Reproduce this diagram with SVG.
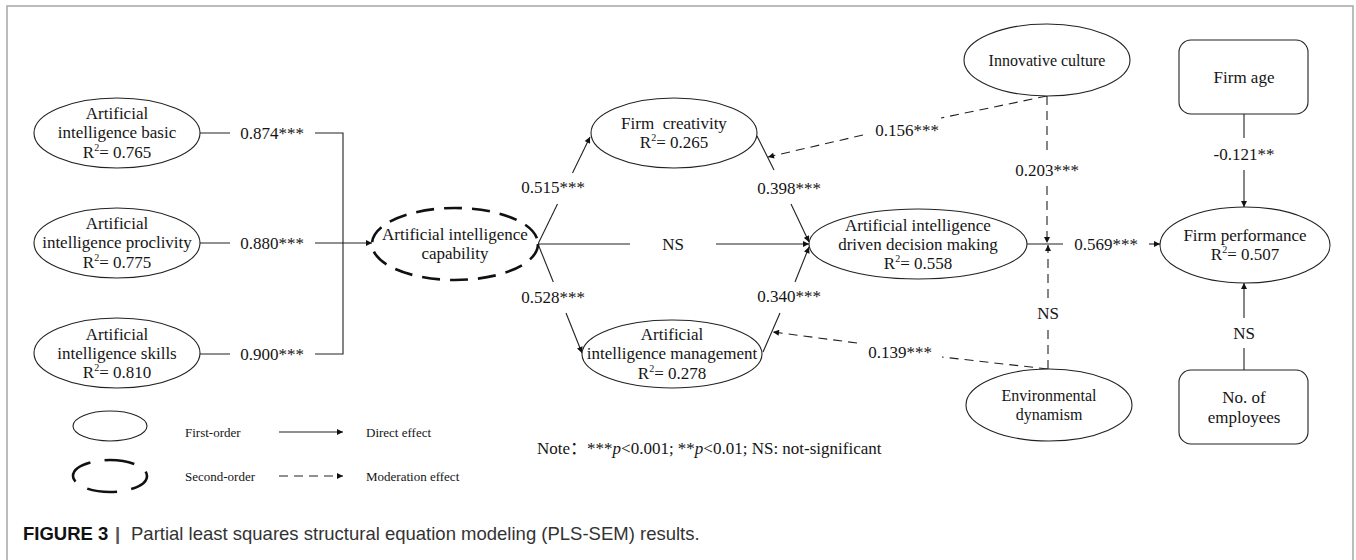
<svg xmlns="http://www.w3.org/2000/svg" width="1356" height="560" viewBox="0 0 1356 560">
<style>
  .t{font-family:"Liberation Serif","Times New Roman",serif;font-size:17px;fill:#151515;text-anchor:middle}
  .s{font-size:16px}
  .lg{font-family:"Liberation Serif","Times New Roman",serif;font-size:13px;fill:#151515}
  .node{fill:#fff;stroke:#222;stroke-width:1.1}
  .second{fill:#fff;stroke:#111;stroke-width:2.6;stroke-dasharray:18 10}
  .ln{fill:none;stroke:#222;stroke-width:1.1}
  .dash{fill:none;stroke:#222;stroke-width:1.1;stroke-dasharray:9 6}
  .cap{font-family:"Liberation Sans",Arial,sans-serif;font-size:18.5px;fill:#333}
</style>
<defs>
  <marker id="ah" viewBox="0 0 10 10" refX="10" refY="5" markerWidth="8" markerHeight="6" orient="auto" markerUnits="userSpaceOnUse">
    <path d="M0,0 L10,5 L0,10 z" fill="#111"/>
  </marker>
</defs>
<rect x="7" y="6" width="1346" height="600" fill="#fff" stroke="#a6a6a6" stroke-width="1.5"/>

<g id="connectors">
  <!-- first-order to second-order -->
  <path class="ln" d="M200,133 H230 M315,133 H343 V354 H315 M200,354 H230 M200,243 H230"/>
  <path class="ln" d="M315,243 H372" marker-end="url(#ah)"/>
  <text class="t" x="272" y="139">0.874***</text>
  <text class="t" x="272" y="249">0.880***</text>
  <text class="t" x="272" y="360">0.900***</text>
  <!-- capability to mediators -->
  <path class="ln" d="M538,244 L557.5,204"/>
  <path class="ln" d="M572.5,173 L590,137" marker-end="url(#ah)"/>
  <text class="t" x="553" y="193">0.515***</text>
  <path class="ln" d="M538,244 L553.3,282"/>
  <path class="ln" d="M566,313 L582,353" marker-end="url(#ah)"/>
  <text class="t" x="553" y="303">0.528***</text>
  <path class="ln" d="M538,244 H630"/>
  <path class="ln" d="M716,244 H809" marker-end="url(#ah)"/>
  <text class="t" x="673" y="250">NS</text>
  <!-- mediators to decision -->
  <path class="ln" d="M757,136 L774,170"/>
  <path class="ln" d="M791,204 L809,242" marker-end="url(#ah)"/>
  <text class="t" x="789" y="194">0.398***</text>
  <path class="ln" d="M763,352 L780,313"/>
  <path class="ln" d="M795,282 L809,247" marker-end="url(#ah)"/>
  <text class="t" x="789" y="302">0.340***</text>
  <!-- moderation: innovative culture -->
  <path class="dash" d="M1047,96 L941,118"/>
  <path class="dash" d="M863,135 L768,157" marker-end="url(#ah)"/>
  <text class="t" x="907" y="136">0.156***</text>
  <path class="dash" d="M1047,96 V155"/>
  <path class="dash" d="M1047,186 V243" marker-end="url(#ah)"/>
  <text class="t" x="1047" y="176">0.203***</text>
  <!-- moderation: environmental dynamism -->
  <path class="dash" d="M1048,369 L942,357"/>
  <path class="dash" d="M857,343 L773,332" marker-end="url(#ah)"/>
  <text class="t" x="900" y="358">0.139***</text>
  <path class="dash" d="M1048,369 V328"/>
  <path class="dash" d="M1048,298 V245" marker-end="url(#ah)"/>
  <text class="t" x="1048" y="319">NS</text>
  <!-- decision to performance -->
  <path class="ln" d="M1027,244 H1063"/>
  <path class="ln" d="M1149,244 H1160" marker-end="url(#ah)"/>
  <text class="t" x="1106" y="250">0.569***</text>
  <!-- controls -->
  <path class="ln" d="M1244,114 V138"/>
  <path class="ln" d="M1244,170 V207" marker-end="url(#ah)"/>
  <text class="t" x="1244" y="160">-0.121**</text>
  <path class="ln" d="M1244,370 V348"/>
  <path class="ln" d="M1244,318 V283" marker-end="url(#ah)"/>
  <text class="t" x="1244" y="339">NS</text>
</g>

<g id="ai-basic">
  <ellipse class="node" cx="117" cy="133" rx="83" ry="35"/>
  <text class="t" x="117" y="119">Artificial</text>
  <text class="t" x="117" y="138">intelligence basic</text>
  <text class="t" x="117" y="158">R<tspan font-size="10" dy="-7">2</tspan><tspan dy="7">= 0.765</tspan></text>
</g>
<g id="ai-proclivity">
  <ellipse class="node" cx="117" cy="243" rx="83" ry="35"/>
  <text class="t" x="117" y="229">Artificial</text>
  <text class="t" x="117" y="248">intelligence proclivity</text>
  <text class="t" x="117" y="268">R<tspan font-size="10" dy="-7">2</tspan><tspan dy="7">= 0.775</tspan></text>
</g>
<g id="ai-skills">
  <ellipse class="node" cx="117" cy="353" rx="83" ry="35"/>
  <text class="t" x="117" y="340">Artificial</text>
  <text class="t" x="117" y="359">intelligence skills</text>
  <text class="t" x="117" y="378">R<tspan font-size="10" dy="-7">2</tspan><tspan dy="7">= 0.810</tspan></text>
</g>
<g id="ai-capability">
  <ellipse class="second" cx="455" cy="244" rx="83" ry="36"/>
  <text class="t" x="455" y="240">Artificial intelligence</text>
  <text class="t" x="455" y="259">capability</text>
</g>
<g id="firm-creativity">
  <ellipse class="node" cx="674" cy="133" rx="83" ry="35"/>
  <text class="t" x="674" y="129" xml:space="preserve">Firm  creativity</text>
  <text class="t" x="674" y="148">R<tspan font-size="10" dy="-7">2</tspan><tspan dy="7">= 0.265</tspan></text>
</g>
<g id="ai-management">
  <ellipse class="node" cx="672" cy="354" rx="90" ry="34"/>
  <text class="t" x="672" y="340">Artificial</text>
  <text class="t" x="672" y="359">intelligence management</text>
  <text class="t" x="672" y="379">R<tspan font-size="10" dy="-7">2</tspan><tspan dy="7">= 0.278</tspan></text>
</g>
<g id="ai-decision">
  <ellipse class="node" cx="918" cy="244" rx="109" ry="35"/>
  <text class="t" x="918" y="231">Artificial intelligence</text>
  <text class="t" x="918" y="250">driven decision making</text>
  <text class="t" x="918" y="269">R<tspan font-size="10" dy="-7">2</tspan><tspan dy="7">= 0.558</tspan></text>
</g>
<g id="innovative-culture">
  <ellipse class="node" cx="1047" cy="60" rx="83" ry="36"/>
  <text class="t s" x="1047" y="66">Innovative culture</text>
</g>
<g id="environmental-dynamism">
  <ellipse class="node" cx="1049" cy="405" rx="83" ry="36"/>
  <text class="t s" x="1049" y="401">Environmental</text>
  <text class="t s" x="1049" y="420">dynamism</text>
</g>
<g id="firm-age">
  <rect class="node" x="1179" y="40" width="129" height="74" rx="12"/>
  <text class="t" x="1244" y="83">Firm age</text>
</g>
<g id="firm-performance">
  <ellipse class="node" cx="1245" cy="245" rx="85" ry="38"/>
  <text class="t" x="1245" y="241">Firm performance</text>
  <text class="t" x="1245" y="260">R<tspan font-size="10" dy="-7">2</tspan><tspan dy="7">= 0.507</tspan></text>
</g>
<g id="employees">
  <rect class="node" x="1179" y="370" width="129" height="74" rx="12"/>
  <text class="t" x="1244" y="403">No. of</text>
  <text class="t" x="1244" y="423">employees</text>
</g>

<g id="legend">
  <ellipse class="node" cx="110" cy="426" rx="37" ry="15"/>
  <text class="lg" x="185" y="437">First-order</text>
  <path class="ln" d="M279,432 H343" marker-end="url(#ah)"/>
  <text class="lg" x="366" y="437">Direct effect</text>
  <ellipse fill="none" stroke="#111" stroke-width="2.6" stroke-dasharray="30 14" stroke-dashoffset="8" cx="110" cy="476" rx="37" ry="16"/>
  <text class="lg" x="185" y="481">Second-order</text>
  <path class="dash" d="M279,476 H343" marker-end="url(#ah)"/>
  <text class="lg" x="366" y="481">Moderation effect</text>
</g>

<g id="note">
  <text class="t" x="537" y="454" style="text-anchor:start;font-family:'Liberation Serif','Noto Sans CJK SC',serif">Note：***<tspan font-style="italic">p</tspan>&lt;0.001; **<tspan font-style="italic">p</tspan>&lt;0.01; NS: not-significant</text>
</g>

<g id="caption">
  <text class="cap" x="23" y="540"><tspan font-weight="bold" fill="#111">FIGURE 3</tspan><tspan x="115" font-weight="bold" fill="#555">|</tspan><tspan x="131">Partial least squares structural equation modeling (PLS-SEM) results.</tspan></text>
</g>
</svg>
